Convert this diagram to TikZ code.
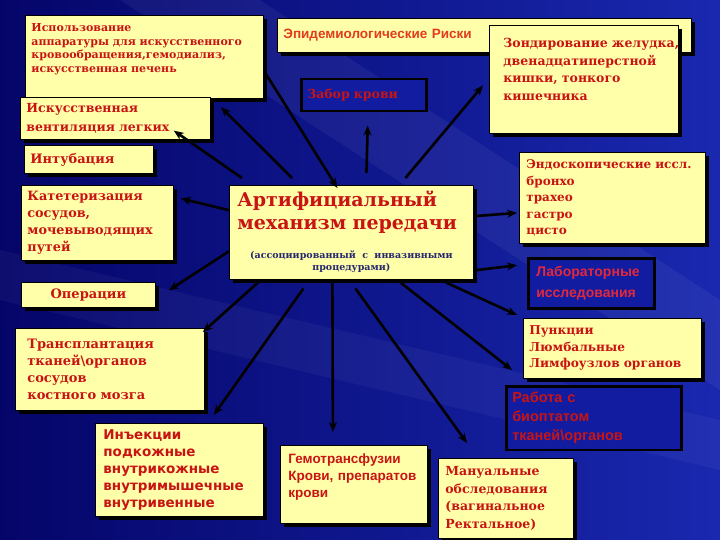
\documentclass[tikz,border=0pt]{standalone}
\usepackage{fontspec}
\usetikzlibrary{shadows,arrows.meta}

\newfontfamily\slabfont{DejaVu Serif}
\newfontfamily\arialfont{Liberation Sans}
\newfontfamily\dvsfont{DejaVu Sans}

\definecolor{paleyellow}{RGB}{255,255,170}
\definecolor{boxred}{RGB}{200,20,20}
\definecolor{epidred}{RGB}{225,60,30}
\definecolor{labred}{RGB}{225,40,60}
\definecolor{subblue}{RGB}{40,40,110}
\definecolor{deepblue}{RGB}{18,28,160}
\definecolor{bgleft}{RGB}{5,5,105}
\definecolor{bgright}{RGB}{25,40,175}

\newcommand{\mechnote}{\slabfont\bfseries\fontsize{9.5}{12}\selectfont\color{subblue}}

\begin{document}
\begin{tikzpicture}[x=1pt, y=-1pt,
  ybox/.style={draw=black, line width=0.8pt, fill=paleyellow, anchor=north west,
    inner sep=6pt, align=left, text=boxred,
    drop shadow={shadow xshift=3.5pt, shadow yshift=-3.5pt, opacity=1, fill=black}},
  dbox/.style={draw=black, line width=2.5pt, fill=deepblue, anchor=north west,
    inner sep=6pt, align=left, text=boxred},
  slab/.style 2 args={font=\slabfont\bfseries\fontsize{#1}{#2}\selectfont},
  arial/.style 2 args={font=\arialfont\bfseries\fontsize{#1}{#2}\selectfont},
  dvs/.style 2 args={font=\dvsfont\bfseries\fontsize{#1}{#2}\selectfont},
  arr/.style={-{Stealth[length=10pt,width=8pt]}, line width=2.6pt, black}]

  % Slide background
  \useasboundingbox (0,0) rectangle (720,540);
  \fill[left color=bgleft, right color=bgright] (0,0) rectangle (720,540);
  \fill[white, opacity=0.05] (120,0) -- (260,0) -- (720,300) -- (720,390) -- cycle;
  \fill[white, opacity=0.04] (0,250) -- (0,300) -- (720,470) -- (720,420) -- cycle;

  % Left column
  \node[ybox, slab={11}{13.5}, text width=226pt, minimum height=83pt] (apparat) at (25,15)
    {Использование\\аппаратуры для искусственного\\кровообращения,гемодиализ,\\искусственная печень\\[4pt]\mbox{}};
  \node[ybox, slab={12.5}{19}, text width=178pt, minimum height=40pt] (ivl) at (20,97)
    {Искусственная\\вентиляция легких};
  \node[ybox, slab={13}{14}, text width=117pt, minimum height=28pt] (intub) at (24,145) {Интубация};
  \node[ybox, slab={12.8}{17}, text width=140pt, minimum height=73pt] (katet) at (21,185)
    {Катетеризация\\сосудов,\\мочевыводящих\\путей};
  \node[ybox, slab={13}{14}, text width=122pt, minimum height=25pt, align=center] (oper) at (21,282) {Операции};
  \node[ybox, slab={13}{17}, inner xsep=12pt, text width=165pt, minimum height=82pt] (transpl) at (15,328)
    {Трансплантация\\тканей\textbackslash органов\\сосудов\\костного мозга};

  % Bottom row
  \node[ybox, dvs={13.5}{17}, inner xsep=8pt, text width=152pt, minimum height=90pt] (inject) at (95,423)
    {Инъекции\\подкожные\\внутрикожные\\внутримышечные\\внутривенные};
  \node[ybox, arial={13.5}{17}, inner xsep=8pt, text width=131pt, minimum height=78pt] (gemo) at (280,445)
    {Гемотрансфузии\\Крови, препаратов\\крови\\[1pt]\mbox{}};
  \node[ybox, slab={12.5}{17.5}, inner xsep=7pt, text width=121pt, minimum height=80pt] (manual) at (438,458)
    {Мануальные\\обследования\\(вагинальное\\Ректальное)};

  % Right column
  \node[dbox, arial={14.5}{19}, text width=163pt, minimum height=63pt] (rabota) at (505,385)
    {Работа с\\биоптатом\\тканей\textbackslash органов};
  \node[ybox, slab={12.2}{16.5}, text width=166pt, minimum height=60pt] (punk) at (523,318)
    {Пункции\\Люмбальные\\Лимфоузлов органов};
  \node[dbox, arial={14}{21}, inner xsep=8pt, text width=110pt, minimum height=50pt, text=labred] (labor) at (527,257)
    {Лабораторные\\исследования};
  \node[ybox, slab={12}{16.5}, inner xsep=7pt, text width=172pt, minimum height=91pt] (endo) at (519,152)
    {Эндоскопические иссл.\\бронхо\\трахео\\гастро\\цисто};

  % Top row
  \node[ybox, arial={13.5}{14}, text width=402pt, minimum height=34pt, text=epidred] (epid) at (277,18)
    {Эпидемиологические Риски};
  \node[ybox, slab={12.5}{17.5}, inner xsep=14pt, text width=161pt, minimum height=108pt] (zond) at (489,25)
    {\mbox{Зондирование желудка,}\\двенадцатиперстной\\кишки, тонкого\\кишечника\\[2.5pt]\mbox{}};
  \node[dbox, slab={12.5}{14}, text width=113pt, minimum height=32pt] (zabor) at (300,78) {Забор крови};

  % Central box
  \node[ybox, slab={19}{23}, inner xsep=8pt, text width=228pt, minimum height=88pt] (mech) at (229,185)
    {Артифициальный\\механизм передачи\\[6pt]\makebox[228pt][c]{\mechnote (ассоциированный с инвазивными}\\[-11pt]\makebox[228pt][c]{\mechnote процедурами)}};

  % Arrows
  \draw[arr] ([xshift=13pt,yshift=7pt]mech.north west) -- ([xshift=-37pt,yshift=9pt]ivl.south east);
  \draw[arr] ([xshift=63pt,yshift=7pt]mech.north west) -- ([xshift=10pt,yshift=-10pt]ivl.north east);
  \draw[arr] ([xshift=2pt,yshift=25pt]apparat.south east) -- ([xshift=-14pt,yshift=-3pt]mech.north);
  \draw[arr] ([xshift=15pt,yshift=12pt]mech.north) -- ([xshift=4pt,yshift=-13pt]zabor.south);
  \draw[arr] ([xshift=54pt,yshift=7pt]mech.north) -- ([xshift=-6pt,yshift=-6pt]zond.west);
  \draw[arr] ([yshift=16pt]mech.east) -- ([xshift=-2pt,yshift=-15pt]endo.west);
  \draw[arr] ([yshift=9pt]mech.south east) -- ([xshift=-10pt,yshift=18pt]labor.west);
  \draw[arr] ([xshift=-28pt,yshift=-3pt]mech.south east) -- ([xshift=-6pt,yshift=3pt]punk.north west);
  \draw[arr] ([xshift=49pt,yshift=-3pt]mech.south) -- ([xshift=7pt,yshift=15pt]rabota.north west);
  \draw[arr] ([xshift=4pt,yshift=-9pt]mech.south) -- ([xshift=29pt,yshift=15pt]manual.north west);
  \draw[arr] ([xshift=-19pt,yshift=-3pt]mech.south) -- ([xshift=-21pt,yshift=13pt]gemo.north);
  \draw[arr] ([xshift=-48pt,yshift=-9pt]mech.south) -- ([xshift=-50pt,yshift=8pt]inject.north east);
  \draw[arr] ([xshift=29pt,yshift=-3pt]mech.south west) -- ([xshift=-2pt,yshift=-4pt]transpl.north east);
  \draw[arr] ([yshift=-19pt]mech.west) -- ([xshift=13pt,yshift=4.5pt]oper.east);
  \draw[arr] ([yshift=22pt]mech.west) -- ([xshift=7pt,yshift=24.5pt]katet.east);
\end{tikzpicture}
\end{document}
